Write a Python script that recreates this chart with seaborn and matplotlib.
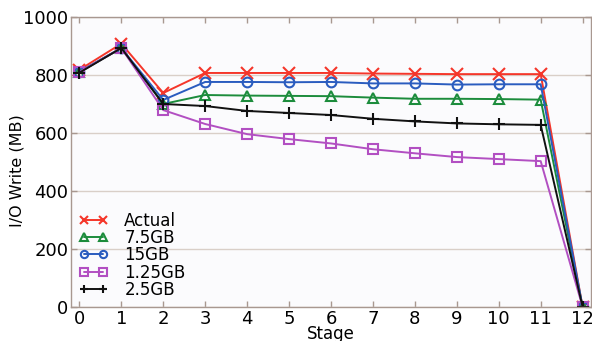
import matplotlib
matplotlib.use("Agg")
import matplotlib.pyplot as plt
import seaborn as sns
import pandas as pd

stages = list(range(13))
actual = [818, 908, 738, 807, 807, 807, 807, 805, 804, 803, 803, 803, 0]
gb_7_5 = [810, 893, 700, 731, 729, 728, 727, 722, 718, 718, 717, 715, 0]
gb_15 = [812, 893, 714, 776, 776, 775, 776, 771, 771, 767, 768, 768, 0]
gb_1_25 = [810, 893, 679, 631, 596, 579, 564, 544, 530, 517, 510, 503, 0]
gb_2_5 = [808, 893, 700, 693, 676, 669, 662, 649, 640, 633, 630, 628, 0]

series = [
    ("Actual", actual, "#f5362a", "x"),
    ("7.5GB", gb_7_5, "#1c8c3c", "^"),
    ("15GB", gb_15, "#2a5cbf", "o"),
    ("1.25GB", gb_1_25, "#b24fc2", "s"),
    ("2.5GB", gb_2_5, "#111111", "+"),
]

sns.set_theme(style="white")
plt.rcParams["font.family"] = ["DejaVu Sans"]
plt.rcParams["text.color"] = "black"
plt.rcParams["axes.labelcolor"] = "black"

fig = plt.figure(figsize=(5.92, 3.41), dpi=100)
ax = fig.add_axes([71 / 592, 1 - 307 / 341, (591 - 71) / 592, (307 - 17) / 341])
ax.set_facecolor("#fbfbfd")

for name, vals, color, marker in series:
    df = pd.DataFrame({"Stage": stages, "MB": vals})
    sns.lineplot(data=df, x="Stage", y="MB", ax=ax, color=color, marker=marker,
                 markersize=7 if marker not in ("x", "+") else 8,
                 markerfacecolor="none", markeredgecolor=color,
                 markeredgewidth=1.5, linewidth=1.4, label=name)

ax.set_xlim(-0.2, 12.2)
ax.set_ylim(0, 1000)
ax.set_xticks(stages)
ax.set_yticks(range(0, 1001, 200))
ax.grid(axis="y", color="#d9cfc8", linewidth=1.0)
ax.grid(axis="x", visible=False)
for s in ax.spines.values():
    s.set_color("#a89890")
    s.set_linewidth(1.0)
ax.tick_params(axis="both", which="both", direction="in", length=4, width=1,
               color="#a89890", labelsize=13, top=True, right=True,
               bottom=True, left=True, labelcolor="black", pad=2)
ax.set_xlabel("Stage", fontsize=12)
ax.xaxis.set_label_coords(0.5, -0.062, transform=ax.transAxes)
ax.xaxis.label.set_va("top")
ax.set_ylabel("I/O Write (MB)", fontsize=11.5)
ax.yaxis.set_label_coords(17 / 592, 0.5, transform=fig.transFigure)
ax.yaxis.label.set_va("center")

leg = ax.legend(loc="lower left", frameon=False, fontsize=12, numpoints=2,
                markerscale=0.75, handlelength=1.7, handletextpad=1.0,
                labelspacing=-0.05, borderaxespad=0.1, borderpad=0.4)

fig.savefig("out.png", dpi=100)
